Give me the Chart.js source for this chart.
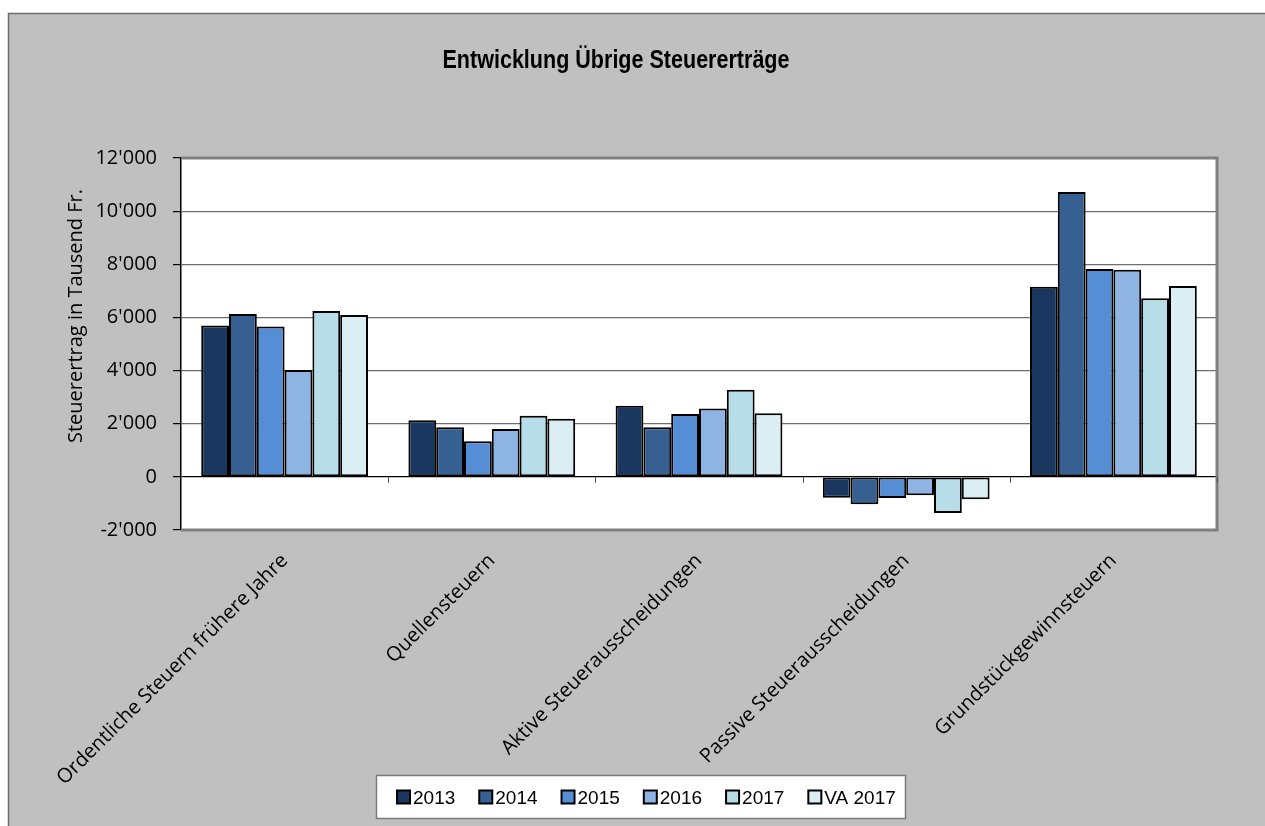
<!DOCTYPE html>
<html><head><meta charset="utf-8">
<script src="https://cdn.jsdelivr.net/npm/chart.js@4.4.0/dist/chart.umd.min.js"></script>
<style>html,body{margin:0;padding:0;background:#fff;overflow:hidden;} #wrap{width:1265px;height:826px;position:relative;}</style>
</head><body><div id="wrap"><canvas id="c" width="1265" height="826"></canvas></div>
<script>
const chartTitle = 'Entwicklung Übrige Steuererträge';
const yAxisTitle = 'Steuerertrag in Tausend Fr.';
const categories = ['Ordentliche Steuern frühere Jahre', 'Quellensteuern', 'Aktive Steuerausscheidungen', 'Passive Steuerausscheidungen', 'Grundstückgewinnsteuern'];
const seriesNames = ['2013', '2014', '2015', '2016', '2017', 'VA 2017'];
const v2013 = [5700, 2130, 2680, -790, 7150];
const v2014 = [6130, 1870, 1870, -1030, 10720];
const v2015 = [5660, 1340, 2370, -800, 7820];
const v2016 = [4020, 1800, 2570, -690, 7790];
const v2017 = [6240, 2300, 3280, -1360, 6720];
const vVA2017 = [6090, 2190, 2390, -840, 7180];
const yMin = -2000, yMax = 12000, yStep = 2000;

const seriesValues = [v2013, v2014, v2015, v2016, v2017, vVA2017];
const colors = ['#1a375f', '#366092', '#558ed5', '#8eb4e3', '#b7dee8', '#dbeef4'];

function fmt(v){
  const s = Math.abs(v).toString().replace(/\B(?=(\d{3})+(?!\d))/g, "'");
  return (v < 0 ? '-' : '') + s;
}

const decor = {
  id: 'decor',
  beforeDraw(chart){
    const ctx = chart.ctx, a = chart.chartArea;
    ctx.save();
    ctx.fillStyle = '#ffffff';
    ctx.fillRect(0, 0, chart.width, chart.height);
    ctx.fillStyle = '#c0c0c0';
    ctx.fillRect(8, 13, chart.width - 8, chart.height - 13);
    ctx.strokeStyle = '#6e6e6e';
    ctx.lineWidth = 1.5;
    ctx.beginPath();
    ctx.moveTo(8.5, chart.height); ctx.lineTo(8.5, 13.5); ctx.lineTo(chart.width, 13.5);
    ctx.stroke();
    ctx.fillStyle = '#ffffff';
    ctx.fillRect(a.left, a.top, a.right - a.left, a.bottom - a.top);
    ctx.restore();
  },
  afterDraw(chart){
    const ctx = chart.ctx, a = chart.chartArea;
    const xs = chart.scales.x, ys = chart.scales.y;
    ctx.save();
    // plot border
    ctx.strokeStyle = '#808080';
    ctx.lineWidth = 3;
    ctx.beginPath();
    ctx.moveTo(a.left, a.top); ctx.lineTo(a.right, a.top); ctx.lineTo(a.right, a.bottom); ctx.lineTo(a.left, a.bottom);
    ctx.stroke();
    // category tick marks on zero line
    const y0 = ys.getPixelForValue(0);
    const w = (a.right - a.left) / categories.length;
    ctx.strokeStyle = '#555';
    ctx.lineWidth = 1;
    for (let i = 1; i <= categories.length; i++){
      const x = Math.round(xs.getPixelForValue(i - 1) + w / 2) + 0.5;
      ctx.beginPath(); ctx.moveTo(x, y0); ctx.lineTo(x, y0 + 6); ctx.stroke();
    }
    // title (condensed bold)
    ctx.font = "bold 25px 'Liberation Sans', Arial, sans-serif";
    const mw = ctx.measureText(chartTitle).width;
    const sx = 347 / mw;
    ctx.save();
    ctx.translate(616, 68);
    ctx.scale(sx, 1);
    ctx.fillStyle = '#000';
    ctx.textAlign = 'center';
    ctx.textBaseline = 'alphabetic';
    ctx.fillText(chartTitle, 0, 0);
    ctx.restore();
    // y axis title
    ctx.save();
    ctx.translate(76, 316);
    ctx.rotate(-Math.PI / 2);
    ctx.font = "20px 'Open Sans', sans-serif";
    ctx.fillStyle = '#000';
    ctx.textAlign = 'center';
    ctx.textBaseline = 'middle';
    ctx.fillText(yAxisTitle, 0, 0);
    ctx.restore();
    // legend
    const lx0 = 376, ly0 = 775, lx1 = 906, ly1 = 819;
    ctx.fillStyle = '#ffffff';
    ctx.fillRect(lx0, ly0, lx1 - lx0, ly1 - ly0);
    ctx.strokeStyle = '#7a7a7a';
    ctx.lineWidth = 1.5;
    ctx.strokeRect(lx0 + 0.5, ly0 + 0.5, lx1 - lx0 - 1, ly1 - ly0 - 1);
    ctx.font = "19px 'Liberation Sans', Arial, sans-serif";
    ctx.textAlign = 'left';
    ctx.textBaseline = 'middle';
    let x = 397;
    const cy = 797.5;
    chart.data.datasets.forEach((ds) => {
      ctx.fillStyle = ds.backgroundColor;
      ctx.fillRect(x, cy - 7, 13, 13);
      ctx.strokeStyle = '#000';
      ctx.lineWidth = 2;
      ctx.strokeRect(x, cy - 7, 13, 13);
      ctx.fillStyle = '#000';
      ctx.fillText(ds.label, x + 16, cy + 1);
      x += 16 + ctx.measureText(ds.label).width + 24;
    });
    ctx.restore();
  }
};

new Chart(document.getElementById('c'), {
  type: 'bar',
  data: {
    labels: categories,
    datasets: seriesNames.map((n, i) => ({
      label: n,
      data: seriesValues[i],
      backgroundColor: colors[i],
      borderColor: '#000000',
      borderWidth: 2,
      borderSkipped: false,
      categoryPercentage: 0.805,
      barPercentage: 1.0
    }))
  },
  options: {
    responsive: false,
    animation: false,
    devicePixelRatio: 1,
    layout: { padding: { left: 0, top: 158, right: 48, bottom: 0 } },
    plugins: { legend: { display: false }, title: { display: false }, tooltip: { enabled: false } },
    scales: {
      x: {
        position: 'bottom',
        grid: { display: false, drawTicks: false },
        border: { display: false },
        ticks: {
          autoSkip: false, maxRotation: 45, minRotation: 45, padding: 19,
          color: '#000', font: { family: "'Open Sans', sans-serif", size: 20 }
        },
        afterFit(s){ s.height = 296; }
      },
      y: {
        min: yMin, max: yMax,
        grid: {
          color: (c) => c.tick && c.tick.value === 0 ? '#000000' : '#6e6e6e',
          lineWidth: 1.2,
          drawTicks: true, tickLength: 8, tickColor: '#000'
        },
        border: { display: true, color: '#000', width: 1.5 },
        ticks: {
          stepSize: yStep, padding: 16, color: '#000',
          font: { family: "'Open Sans', sans-serif", size: 20 },
          callback: (v) => fmt(v)
        },
        afterFit(s){ s.width = 181; }
      }
    }
  },
  plugins: [decor]
});
</script>
</body></html>
